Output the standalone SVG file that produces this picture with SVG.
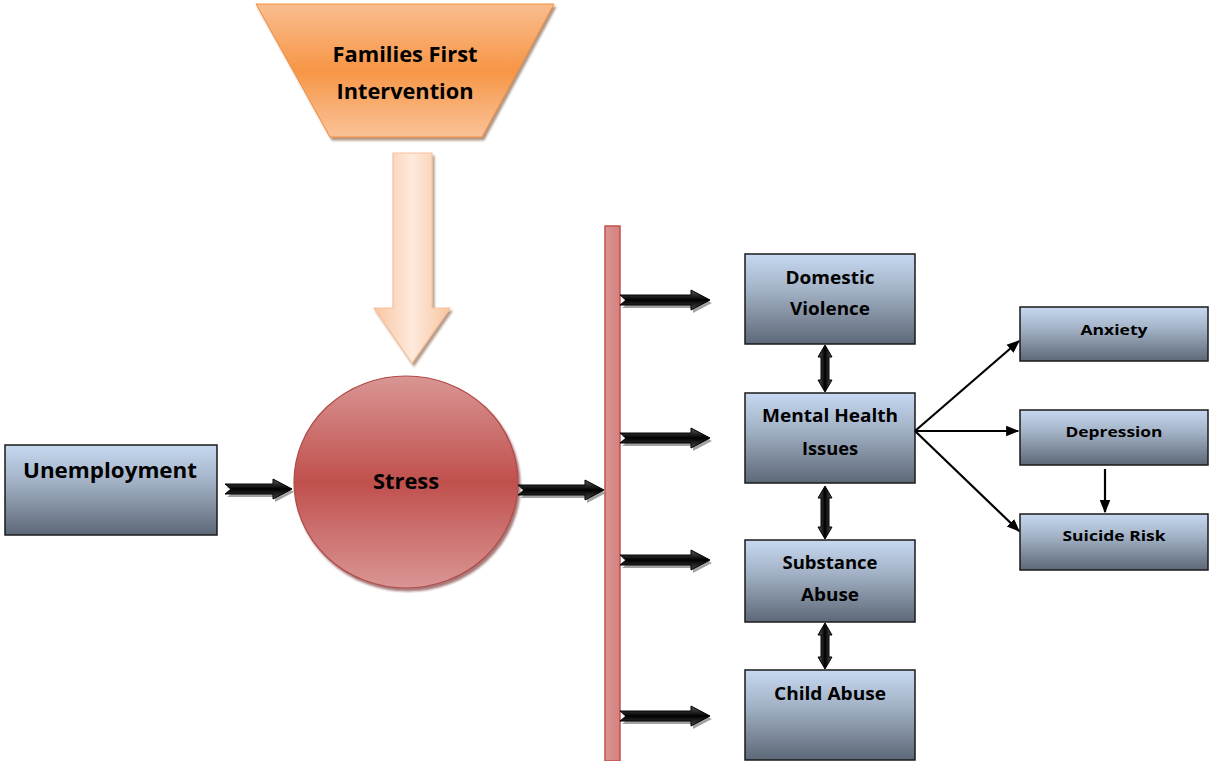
<svg xmlns="http://www.w3.org/2000/svg" width="1209" height="761" viewBox="0 0 1209 761">
<defs>
<style>
.lbl{font-family:"Open Sans",Lato,"Liberation Sans",sans-serif;font-weight:bold;fill:#000;text-anchor:middle}
.box{fill:url(#boxg);stroke:#1a1a1a;stroke-width:1.5}
.fat{fill:url(#fatg);stroke:#000;stroke-width:1}
.fatsh{fill:#8c8c8c;opacity:0.8}
.dbl{fill:url(#dblg);stroke:#000;stroke-width:1}
.thin{stroke:#000;stroke-width:2.2;fill:none;marker-end:url(#ah)}
</style>
<linearGradient id="boxg" x1="0" y1="0" x2="0" y2="1">
<stop offset="0" stop-color="#c6d9f1"/>
<stop offset="0.4" stop-color="#a3b2c6"/>
<stop offset="1" stop-color="#5d6877"/>
</linearGradient>
<linearGradient id="trapg" x1="0" y1="0" x2="0" y2="1">
<stop offset="0" stop-color="#f9bd8f"/>
<stop offset="0.5" stop-color="#f79646"/>
<stop offset="1" stop-color="#fac298"/>
</linearGradient>
<linearGradient id="bigarr" x1="0" y1="0" x2="1" y2="0">
<stop offset="0" stop-color="#f9c39c"/>
<stop offset="0.5" stop-color="#fde9db"/>
<stop offset="1" stop-color="#f9c39c"/>
</linearGradient>
<linearGradient id="circg" x1="0" y1="0" x2="0" y2="1">
<stop offset="0" stop-color="#d99694"/>
<stop offset="0.5" stop-color="#c0504d"/>
<stop offset="1" stop-color="#d99694"/>
</linearGradient>
<linearGradient id="barg" x1="0" y1="0" x2="1" y2="0">
<stop offset="0" stop-color="#d99694"/>
<stop offset="1" stop-color="#d4807e"/>
</linearGradient>
<linearGradient id="fatg" x1="0" y1="0" x2="0" y2="1">
<stop offset="0" stop-color="#5a5a5a"/>
<stop offset="0.5" stop-color="#000"/>
<stop offset="1" stop-color="#4a4a4a"/>
</linearGradient>
<linearGradient id="dblg" x1="0" y1="0" x2="1" y2="0">
<stop offset="0" stop-color="#5a5a5a"/>
<stop offset="0.5" stop-color="#000"/>
<stop offset="1" stop-color="#5a5a5a"/>
</linearGradient>
<marker id="ah" viewBox="0 0 10 10" refX="9" refY="5" markerWidth="6" markerHeight="6" orient="auto" markerUnits="strokeWidth">
<path d="M0,1 L10,5 L0,9 Z" fill="#000"/>
</marker>
<filter id="sh" x="-10%" y="-10%" width="130%" height="130%">
<feDropShadow dx="2" dy="3" stdDeviation="1.2" flood-color="#7a5030" flood-opacity="0.6"/>
</filter>
<filter id="shr" x="-10%" y="-10%" width="130%" height="130%">
<feDropShadow dx="2" dy="3" stdDeviation="1.2" flood-color="#6a2020" flood-opacity="0.6"/>
</filter>
</defs>

<g id="families-first">
<path d="M256,4 L554,4 L482,137 L330,137 Z" fill="url(#trapg)" stroke="#f58d3a" stroke-width="1" filter="url(#sh)"/>
<text class="lbl" x="405" y="62" font-size="20.5" textLength="145" lengthAdjust="spacingAndGlyphs">Families First</text>
<text class="lbl" x="405" y="99" font-size="20.5" textLength="137" lengthAdjust="spacingAndGlyphs">Intervention</text>
</g>

<g id="intervention-arrow">
<path d="M393,153 L432,153 L432,308 L450,308 L412,363 L374,308 L393,308 Z" fill="url(#bigarr)" stroke="#f8be96" stroke-width="1.2" filter="url(#sh)" opacity="0.95"/>
</g>

<g id="unemployment">
<rect class="box" x="5" y="445" width="212" height="90"/>
<text class="lbl" x="110" y="478" font-size="20.5" textLength="174" lengthAdjust="spacingAndGlyphs">Unemployment</text>
</g>

<g id="stress">
<ellipse cx="406" cy="482" rx="112" ry="106" fill="url(#circg)" stroke="#b04a48" stroke-width="1.2" filter="url(#shr)"/>
<text class="lbl" x="406" y="489" font-size="21.5" textLength="66" lengthAdjust="spacingAndGlyphs">Stress</text>
</g>

<g id="outcome-bar">
<rect x="605" y="226" width="15" height="535" fill="url(#barg)" stroke="#c0504d" stroke-width="1.5"/>
</g>

<g id="domestic-violence">
<rect class="box" x="745" y="254" width="170" height="90"/>
<text class="lbl" x="830" y="284" font-size="17.5" textLength="89" lengthAdjust="spacingAndGlyphs">Domestic</text>
<text class="lbl" x="830" y="315" font-size="17.5" textLength="80" lengthAdjust="spacingAndGlyphs">Violence</text>
</g>

<g id="mental-health">
<rect class="box" x="745" y="393" width="170" height="90"/>
<text class="lbl" x="830" y="422" font-size="17.5" textLength="136" lengthAdjust="spacingAndGlyphs">Mental Health</text>
<text class="lbl" x="830" y="455" font-size="17.5" textLength="56" lengthAdjust="spacingAndGlyphs">Issues</text>
</g>

<g id="substance-abuse">
<rect class="box" x="745" y="540" width="170" height="82"/>
<text class="lbl" x="830" y="569" font-size="17.5" textLength="95" lengthAdjust="spacingAndGlyphs">Substance</text>
<text class="lbl" x="830" y="601" font-size="17.5" textLength="58" lengthAdjust="spacingAndGlyphs">Abuse</text>
</g>

<g id="child-abuse">
<rect class="box" x="745" y="670" width="170" height="90"/>
<text class="lbl" x="830" y="700" font-size="17.5" textLength="112" lengthAdjust="spacingAndGlyphs">Child Abuse</text>
</g>

<g id="anxiety">
<rect class="box" x="1020" y="307" width="188" height="54"/>
<text class="lbl" x="1114" y="335" font-size="15" textLength="67" lengthAdjust="spacingAndGlyphs">Anxiety</text>
</g>

<g id="depression">
<rect class="box" x="1020" y="410" width="188" height="55"/>
<text class="lbl" x="1114" y="437" font-size="15" textLength="97" lengthAdjust="spacingAndGlyphs">Depression</text>
</g>

<g id="suicide-risk">
<rect class="box" x="1020" y="514" width="188" height="56"/>
<text class="lbl" x="1114" y="541" font-size="15" textLength="103" lengthAdjust="spacingAndGlyphs">Suicide Risk</text>
</g>

<g id="connectors">
<g class="fatsh" transform="translate(2,3)">
<path d="M225,484 L273,484 L273,479 L292,489 L273,499 L273,494 L225,494 L231,489 Z"/>
<path d="M518,485 L585,485 L585,480 L604,490 L585,500 L585,495 L518,495 L524,490 Z"/>
<path d="M620,295 L691,295 L691,290 L710,300 L691,310 L691,305 L620,305 L626,300 Z"/>
<path d="M620,433 L691,433 L691,428 L710,438 L691,448 L691,443 L620,443 L626,438 Z"/>
<path d="M620,555 L691,555 L691,550 L710,560 L691,570 L691,565 L620,565 L626,560 Z"/>
<path d="M620,711 L691,711 L691,706 L710,716 L691,726 L691,721 L620,721 L626,716 Z"/>
</g>
<path class="fat" d="M225,484 L273,484 L273,479 L292,489 L273,499 L273,494 L225,494 L231,489 Z"/>
<path class="fat" d="M518,485 L585,485 L585,480 L604,490 L585,500 L585,495 L518,495 L524,490 Z"/>
<path class="fat" d="M620,295 L691,295 L691,290 L710,300 L691,310 L691,305 L620,305 L626,300 Z"/>
<path class="fat" d="M620,433 L691,433 L691,428 L710,438 L691,448 L691,443 L620,443 L626,438 Z"/>
<path class="fat" d="M620,555 L691,555 L691,550 L710,560 L691,570 L691,565 L620,565 L626,560 Z"/>
<path class="fat" d="M620,711 L691,711 L691,706 L710,716 L691,726 L691,721 L620,721 L626,716 Z"/>
<path class="dbl" d="M825,345 L832,357 L829,357 L829,380 L832,380 L825,392 L818,380 L821,380 L821,357 L818,357 Z"/>
<path class="dbl" d="M825,486 L832,498 L829,498 L829,527 L832,527 L825,539 L818,527 L821,527 L821,498 L818,498 Z"/>
<path class="dbl" d="M825,623 L832,635 L829,635 L829,657 L832,657 L825,669 L818,657 L821,657 L821,635 L818,635 Z"/>
<line class="thin" x1="915" y1="431" x2="1019" y2="341"/>
<line class="thin" x1="915" y1="431" x2="1018" y2="431"/>
<line class="thin" x1="915" y1="431" x2="1019" y2="531"/>
<line class="thin" x1="1105" y1="469" x2="1105" y2="512"/>
</g>
</svg>
